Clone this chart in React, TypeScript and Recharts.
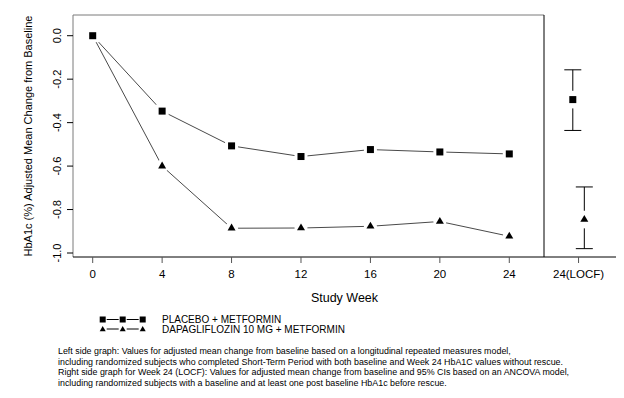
import React from 'react';
import { ComposedChart, Line, Scatter, XAxis, YAxis, ReferenceLine, ErrorBar } from 'recharts';

// ---------- data ----------
const weeks = [0, 4, 8, 12, 16, 20, 24];
const placeboMean = [0, -0.347, -0.507, -0.556, -0.524, -0.535, -0.544];
const dapaMean = [0, -0.6, -0.886, -0.885, -0.877, -0.855, -0.923];
const yTicks = [0, -0.2, -0.4, -0.6, -0.8, -1.0];

const locfLabel = '24(LOCF)';
const locfMean = [-0.294, -0.846];
const locfLower = [-0.436, -0.98];
const locfUpper = [-0.157, -0.696];

const seriesNames = ['PLACEBO + METFORMIN', 'DAPAGLIFLOZIN 10 MG + METFORMIN'];
const yLabel = 'HbA1c (%) Adjusted Mean Change from Baseline';
const xLabel = 'Study Week';
const footnotes = [
  'Left side graph: Values for adjusted mean change from baseline based on a longitudinal repeated measures model,',
  'including randomized subjects who completed Short-Term Period with both baseline and Week 24 HbA1C values without rescue.',
  'Right side graph for Week 24 (LOCF): Values for adjusted mean change from baseline and 95% CIs based on an ANCOVA model,',
  'including randomized subjects with a baseline and at least one post baseline HbA1c before rescue.',
];

// ---------- layout / style ----------
const W = 624;
const H = 398;
const FONT = '"Liberation Sans", Arial, Helvetica, sans-serif';
const X_MIN = -1.135;
const X_MAX = 26.0;
const Y_MIN = -1.0184;
const Y_MAX = 0.0953;
const LOCF_X = 0.48;
const LOCF_OFF = 0.08;
const LINE_COLOR = '#4a4a4a';
const FRAME_GREY = '#7a7a7a';

const rows = weeks.map((w, i) => ({ week: w, placebo: placeboMean[i], dapa: dapaMean[i] }));
const locfRows = [
  { x: LOCF_X - LOCF_OFF, y: locfMean[0], err: [locfMean[0] - locfLower[0], locfUpper[0] - locfMean[0]], kind: 'square' },
  { x: LOCF_X + LOCF_OFF, y: locfMean[1], err: [locfMean[1] - locfLower[1], locfUpper[1] - locfMean[1]], kind: 'triangle' },
];

const Square = ({ cx, cy, s = 7, cover = 6.5 }: any) => (
  <g>
    {cover > 0 && <rect x={cx - cover} y={cy - cover} width={cover * 2} height={cover * 2} fill="#fff" />}
    <rect x={cx - s / 2} y={cy - s / 2} width={s} height={s} fill="#000" />
  </g>
);

const Triangle = ({ cx, cy, s = 8, cover = 6.5 }: any) => {
  const h = s * 0.866;
  const pts = `${cx - s / 2},${cy + h / 3} ${cx + s / 2},${cy + h / 3} ${cx},${cy - (2 * h) / 3}`;
  return (
    <g>
      {cover > 0 && <circle cx={cx} cy={cy} r={cover} fill="#fff" />}
      <polygon points={pts} fill="#000" />
    </g>
  );
};

const YTick = (props: any) => {
  const { x, y, payload } = props;
  return (
    <text
      x={x}
      y={y}
      transform={`rotate(-90, ${x}, ${y})`}
      textAnchor="middle"
      fontSize={11}
      fontFamily={FONT}
      fill="#000"
    >
      {Number(payload.value).toFixed(1)}
    </text>
  );
};

const tickStyle = { fontSize: 11.5, fill: '#000', fontFamily: FONT };

const LocfMarker = (p: any) => {
  const gap = 8.8;
  return (
    <g>
      <rect x={p.cx - 3} y={p.cy - gap} width={6} height={gap * 2} fill="#fff" />
      {p.payload && p.payload.kind === 'square' ? (
        <Square cx={p.cx} cy={p.cy} cover={0} />
      ) : (
        <Triangle cx={p.cx} cy={p.cy} cover={0} />
      )}
    </g>
  );
};

export default function App() {
  return (
    <div style={{ position: 'absolute', left: 0, top: 0, width: W, height: H, background: '#fff' }}>
      <div style={{ position: 'absolute', left: 0, top: 0 }}>
        <ComposedChart width={W} height={H} data={rows} margin={{ top: 15, right: 80, bottom: 111, left: 13 }}>
          <XAxis
            type="number"
            dataKey="week"
            domain={[X_MIN, X_MAX]}
            ticks={weeks}
            allowDataOverflow
            height={30}
            tickSize={6}
            tickMargin={7}
            axisLine={{ stroke: '#000' }}
            tickLine={{ stroke: '#555' }}
            tick={tickStyle}
            interval={0}
          />
          <YAxis
            type="number"
            domain={[Y_MIN, Y_MAX]}
            ticks={yTicks}
            allowDataOverflow
            width={60}
            axisLine={false}
            tickSize={6}
            tickMargin={6}
            tickLine={{ stroke: '#000' }}
            tick={<YTick />}
            interval={0}
          />
          <ReferenceLine x={X_MIN} stroke={FRAME_GREY} ifOverflow="visible" />
          <ReferenceLine y={Y_MAX} stroke={FRAME_GREY} ifOverflow="visible" />
          <ReferenceLine x={X_MAX} stroke="#000" ifOverflow="visible" />
          <Line
            dataKey="dapa"
            type="linear"
            stroke={LINE_COLOR}
            strokeWidth={1}
            isAnimationActive={false}
            dot={(p: any) => <Triangle key={`d${p.index}`} cx={p.cx} cy={p.cy} />}
            activeDot={false}
          />
          <Line
            dataKey="placebo"
            type="linear"
            stroke={LINE_COLOR}
            strokeWidth={1}
            isAnimationActive={false}
            dot={(p: any) => <Square key={`p${p.index}`} cx={p.cx} cy={p.cy} />}
            activeDot={false}
          />
        </ComposedChart>
      </div>
      <div style={{ position: 'absolute', left: 0, top: 0 }}>
        <ComposedChart width={W} height={H} margin={{ top: 15, right: 8, bottom: 111, left: 544 }}>
          <XAxis
            type="number"
            dataKey="x"
            domain={[0, 1]}
            ticks={[LOCF_X]}
            tickFormatter={() => locfLabel}
            allowDataOverflow
            height={30}
            tickSize={6}
            tickMargin={7}
            axisLine={{ stroke: '#000' }}
            tickLine={{ stroke: '#555' }}
            tick={tickStyle}
            interval={0}
          />
          <XAxis
            xAxisId="top"
            orientation="top"
            type="number"
            domain={[0, 1]}
            height={0}
            tick={false}
            tickLine={false}
            axisLine={{ stroke: FRAME_GREY }}
          />
          <YAxis
            type="number"
            dataKey="y"
            orientation="right"
            width={0}
            domain={[Y_MIN, Y_MAX]}
            allowDataOverflow
            tick={false}
            tickLine={false}
            axisLine={{ stroke: FRAME_GREY }}
          />
          <Scatter data={locfRows} isAnimationActive={false} shape={() => <g />}>
            <ErrorBar dataKey="err" direction="y" width={8.5} stroke="#000" strokeWidth={1} />
          </Scatter>
          <Scatter data={locfRows} isAnimationActive={false} shape={(p: any) => <LocfMarker {...p} />} />
        </ComposedChart>
      </div>
      <svg
        width={W}
        height={H}
        style={{ position: 'absolute', left: 0, top: 0, pointerEvents: 'none' }}
        fontFamily={FONT}
      >
        <text x={32} y={136} transform="rotate(-90, 32, 136)" textAnchor="middle" fontSize={11} fill="#000">
          {yLabel}
        </text>
        <text x={344.5} y={301.5} textAnchor="middle" fontSize={12.5} fill="#000">
          {xLabel}
        </text>
        {seriesNames.map((name, i) => {
          const cy = 319.5 + i * 9.5;
          const xs = [102.7, 122.7, 142.7];
          return (
            <g key={name}>
              <line x1={xs[0] + 4} x2={xs[1] - 4} y1={cy} y2={cy} stroke="#000" strokeWidth={1} />
              <line x1={xs[1] + 4} x2={xs[2] - 4} y1={cy} y2={cy} stroke="#000" strokeWidth={1} />
              {xs.map((x) =>
                i === 0 ? (
                  <Square key={x} cx={x} cy={cy} s={6} cover={0} />
                ) : (
                  <Triangle key={x} cx={x} cy={cy + 0.5} s={6} cover={0} />
                )
              )}
              <text x={162} y={cy + 3.6} fontSize={10} fill="#000">
                {name}
              </text>
            </g>
          );
        })}
        {footnotes.map((t, i) => (
          <text key={i} x={58} y={354 + i * 10.5} fontSize={8.9} fill="#000">
            {t}
          </text>
        ))}
      </svg>
    </div>
  );
}
